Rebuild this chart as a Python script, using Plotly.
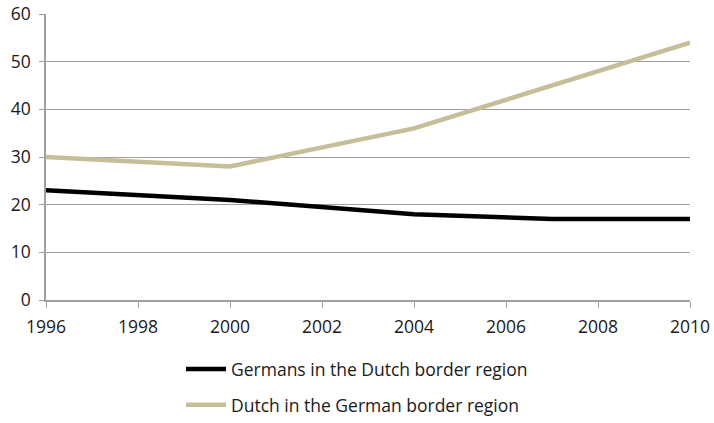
import plotly.graph_objects as go

years_ger = [1996, 2000, 2004, 2006, 2007, 2010]
germans_in_dutch = [23, 21, 18, 17.3, 17, 17]
years_dut = [1996, 2000, 2004, 2010]
dutch_in_german = [30, 28, 36, 54]

x_ticks = [1996, 1998, 2000, 2002, 2004, 2006, 2008, 2010]
y_ticks = [0, 10, 20, 30, 40, 50, 60]

fig = go.Figure()
fig.add_trace(go.Scatter(x=years_ger, y=germans_in_dutch, mode="lines",
                         name="Germans in the Dutch border region",
                         line=dict(color="#000000", width=4.5),
                         legendgroup="a"))
fig.add_trace(go.Scatter(x=years_dut, y=dutch_in_german, mode="lines",
                         name="Dutch in the German border region",
                         line=dict(color="#C6BE98", width=4.5),
                         legendgroup="b"))

fig.update_layout(
    width=714, height=423,
    margin=dict(l=46, r=24, t=14, b=123, autoexpand=False),
    paper_bgcolor="white", plot_bgcolor="white",
    font=dict(family="Open Sans, Liberation Sans, sans-serif", size=16, color="#1a1a1a"),
    showlegend=True,
    legend=dict(x=0.5, xanchor="center", y=0.17, yanchor="top",
                xref="container", yref="container",
                orientation="v", tracegroupgap=10, itemwidth=40,
                font=dict(size=17.5, color="#1a1a1a")),
    xaxis=dict(range=[1996, 2010], tickvals=x_ticks, ticks="outside",
               ticklen=6, tickcolor="#A0A0A0", showgrid=False,
               showline=True, linecolor="#A0A0A0", linewidth=1.5,
               zeroline=False, automargin=False, ticklabelstandoff=4,
               tickfont=dict(size=17.5)),
    yaxis=dict(range=[0, 60], tickvals=y_ticks, ticks="outside",
               ticklen=5, tickcolor="#A0A0A0", showgrid=True,
               gridcolor="#A0A0A0", gridwidth=1.2,
               showline=True, linecolor="#A0A0A0", linewidth=1.5,
               zeroline=False, automargin=False, ticklabelstandoff=5,
               tickfont=dict(size=17.5)),
)

fig.write_html("out.html")
